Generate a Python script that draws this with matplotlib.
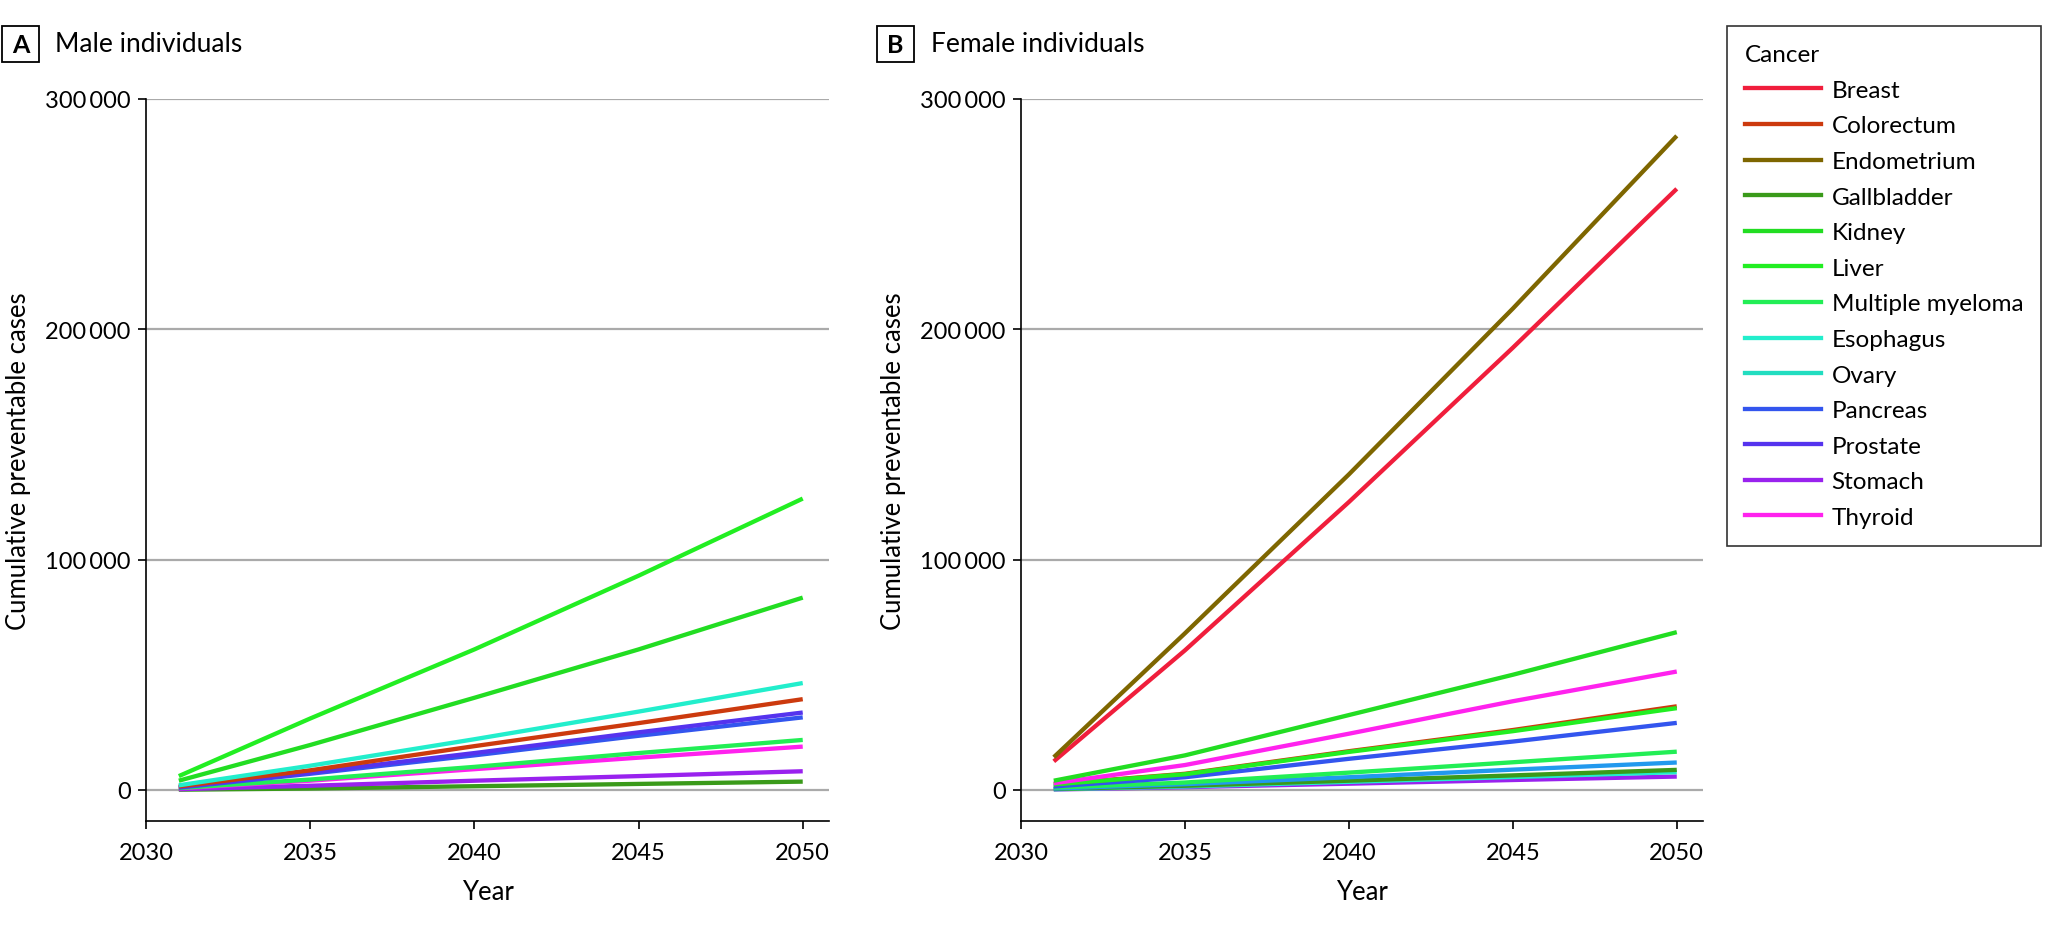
import matplotlib
matplotlib.use("Agg")
import matplotlib.pyplot as plt
from matplotlib.lines import Line2D
from matplotlib.patches import Rectangle
from matplotlib.ticker import FuncFormatter

plt.rcParams['font.family'] = ['Lato', 'DejaVu Sans']

years = [2031, 2035, 2040, 2045, 2050]

cancers = ["Breast", "Colorectum", "Endometrium", "Gallbladder", "Kidney", "Liver",
           "Multiple myeloma", "Esophagus", "Ovary", "Pancreas", "Prostate", "Stomach", "Thyroid"]
legend_colors = ["#F01E3C", "#CC3A0E", "#7E6600", "#3A9A1A", "#22DD22", "#22EE22",
                 "#22EE55", "#22EECC", "#22DDC0", "#3355EE", "#5533EE", "#9922EE", "#FF22EE"]

# Male individuals (cumulative preventable cases)
male_liver = [6000, 31000, 61000, 93000, 126500]
male_kidney = [4000, 19500, 40000, 61000, 83500]
male_esophagus = [2000, 10500, 22000, 34000, 46400]
male_colorectum = [1500, 8500, 19000, 29000, 39400]
male_prostate = [1200, 7500, 16000, 25000, 33600]
male_pancreas = [1000, 7000, 15000, 23500, 31500]
male_myeloma = [800, 4500, 10000, 16000, 21700]
male_thyroid = [700, 4000, 9000, 14000, 18800]
male_stomach = [300, 1800, 4000, 6000, 8100]
male_gallbladder = [100, 600, 1600, 2600, 3600]

# Female individuals (cumulative preventable cases)
female_endometrium = [14200, 68000, 137000, 209000, 284000]
female_breast = [12400, 60600, 125000, 192000, 261000]
female_kidney = [4000, 15000, 32500, 50000, 68500]
female_thyroid = [2900, 10800, 24400, 38500, 51400]
female_colorectum = [2500, 7000, 16800, 26000, 36300]
female_liver = [2400, 6800, 16500, 25500, 35500]
female_pancreas = [1500, 5500, 13500, 21000, 29100]
female_myeloma = [1000, 3200, 7500, 12000, 16600]
female_ovary = [600, 2500, 5500, 8800, 11900]
female_gallbladder = [400, 1800, 4000, 6300, 8700]
female_esophagus = [300, 1500, 3500, 5600, 7700]
female_stomach = [200, 1200, 2700, 4300, 5800]

col = dict(zip(cancers, legend_colors))

male_series = [
    ("Gallbladder", male_gallbladder, col["Gallbladder"]),
    ("Stomach", male_stomach, col["Stomach"]),
    ("Thyroid", male_thyroid, col["Thyroid"]),
    ("Multiple myeloma", male_myeloma, col["Multiple myeloma"]),
    ("Pancreas", male_pancreas, col["Pancreas"]),
    ("Prostate", male_prostate, col["Prostate"]),
    ("Colorectum", male_colorectum, col["Colorectum"]),
    ("Esophagus", male_esophagus, col["Esophagus"]),
    ("Kidney", male_kidney, col["Kidney"]),
    ("Liver", male_liver, col["Liver"]),
]
female_series = [
    ("Stomach", female_stomach, col["Stomach"]),
    ("Esophagus", female_esophagus, col["Esophagus"]),
    ("Gallbladder", female_gallbladder, col["Gallbladder"]),
    ("Ovary", female_ovary, "#2299EE"),
    ("Multiple myeloma", female_myeloma, col["Multiple myeloma"]),
    ("Pancreas", female_pancreas, col["Pancreas"]),
    ("Colorectum", female_colorectum, col["Colorectum"]),
    ("Liver", female_liver, col["Liver"]),
    ("Thyroid", female_thyroid, col["Thyroid"]),
    ("Kidney", female_kidney, col["Kidney"]),
    ("Breast", female_breast, col["Breast"]),
    ("Endometrium", female_endometrium, col["Endometrium"]),
]

W, H = 2048, 929
fig = plt.figure(figsize=(W / 100, H / 100), dpi=100)

def fmt(v, pos):
    v = int(round(v))
    if v == 0:
        return "0"
    return f"{v:,}".replace(",", "\u2009")

def make_axes(left_px, right_px, series):
    top_px, bottom_px = 100, 822
    ax = fig.add_axes([left_px / W, 1 - bottom_px / H, (right_px - left_px) / W, (bottom_px - top_px) / H])
    for yv in [0, 100000, 200000, 300000]:
        ax.axhline(yv, color="#AAAAAA", lw=1.6, zorder=1)
    for name, vals, c in series:
        ax.plot(years, vals, color=c, lw=3.1, solid_capstyle="butt", zorder=3)
    ax.set_xlim(2030, 2050.8)
    ax.set_ylim(-13500, 300000)
    ax.set_xticks([2030, 2035, 2040, 2045, 2050])
    ax.set_yticks([0, 100000, 200000, 300000])
    ax.yaxis.set_major_formatter(FuncFormatter(fmt))
    ax.spines["top"].set_visible(False)
    ax.spines["right"].set_visible(False)
    for s in ["left", "bottom"]:
        ax.spines[s].set_linewidth(1.2)
    ax.tick_params(direction="out", length=6, width=1.2, labelsize=17, pad=5)
    ax.tick_params(axis="x", pad=9)
    ax.set_xlabel("Year", fontsize=18.5, labelpad=12)
    ax.set_ylabel("Cumulative preventable cases", fontsize=18.5, labelpad=10)
    return ax

axA = make_axes(146, 829, male_series)
axB = make_axes(1021, 1703, female_series)

def panel_title(box_left, text_left, letter, title):
    fig.patches.append(Rectangle((box_left / W, 1 - 63 / H), 37 / W, 36 / H,
                                 transform=fig.transFigure, fc="white", ec="black", lw=1.3))
    fig.text((box_left + 18.5) / W, 1 - 45.5 / H, letter, fontsize=18, fontweight="bold",
             ha="center", va="center")
    fig.text(text_left / W, 1 - 45 / H, title, fontsize=19, ha="left", va="center")

panel_title(2, 55, "A", "Male individuals")
panel_title(877, 931, "B", "Female individuals")

handles = [Line2D([0], [0], color=c, lw=3.1) for c in legend_colors]
leg = fig.legend(handles, cancers, title="Cancer", loc="upper left",
                 bbox_to_anchor=(1727 / W, 1 - 27 / H), fontsize=17.5, title_fontsize=17.5,
                 frameon=True, fancybox=False, edgecolor="black", handlelength=3.1,
                 handletextpad=0.45, labelspacing=0.6, borderpad=0.75, alignment="left",
                 borderaxespad=0)
leg.get_frame().set_linewidth(1.2)

fig.savefig("out.png", dpi=100, facecolor="white")
